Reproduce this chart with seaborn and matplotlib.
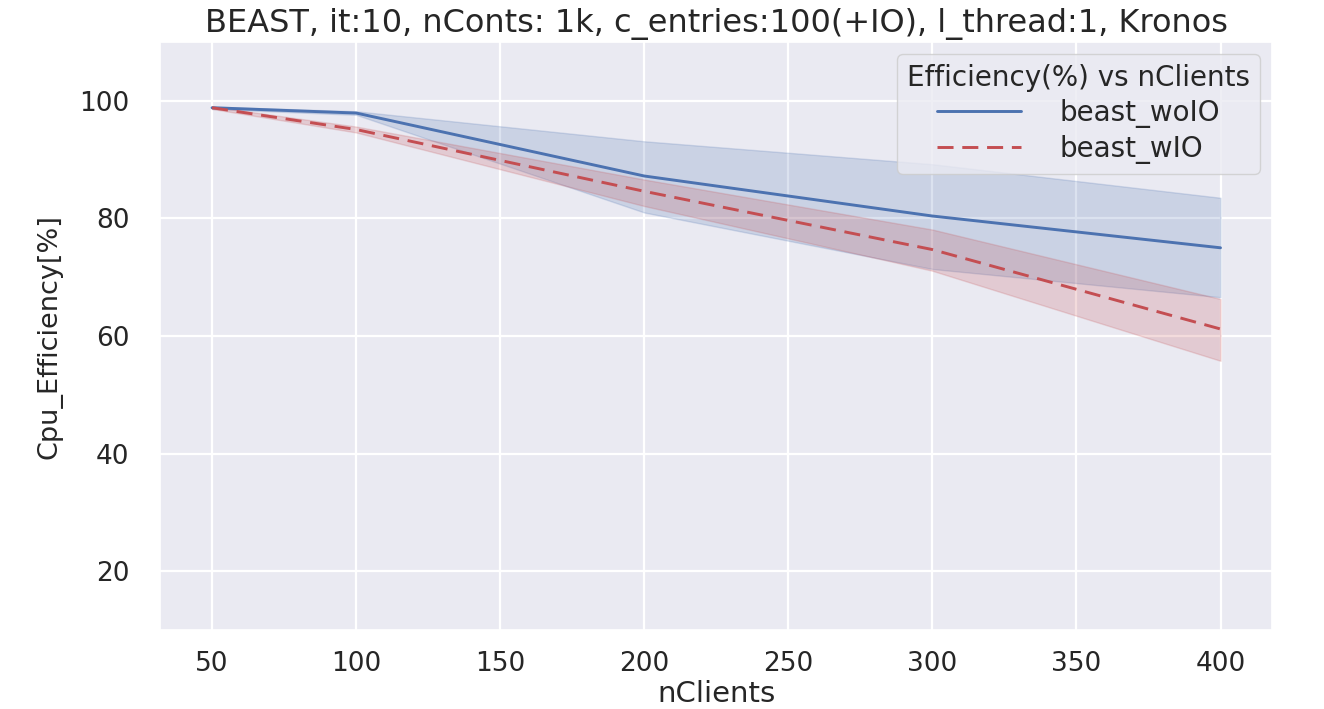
import numpy as np
import pandas as pd
import matplotlib
matplotlib.use("Agg")
import matplotlib.pyplot as plt
import seaborn as sns

# values
n_clients = [50, 100, 200, 300, 400]

wo_io_mean = [98.8, 97.9, 87.2, 80.4, 75.0]
wo_io_low = [98.6, 97.6, 81.0, 71.4, 66.6]
wo_io_high = [99.0, 98.2, 93.1, 89.2, 83.5]

w_io_mean = [98.8, 95.1, 84.6, 74.7, 61.2]
w_io_low = [98.6, 94.6, 82.1, 71.1, 55.8]
w_io_high = [99.0, 95.6, 86.6, 78.1, 66.3]

series_names = ["beast_woIO", "beast_wIO"]

sns.set_theme(style="darkgrid", color_codes=True, rc={"grid.linewidth": 1.6})
plt.rcParams['font.family'] = ['DejaVu Sans']

df = pd.DataFrame({
    "nClients": n_clients * 2,
    "Cpu_Efficiency": wo_io_mean + w_io_mean,
    "run": [series_names[0]] * len(n_clients) + [series_names[1]] * len(n_clients),
})

fig, ax = plt.subplots(figsize=(13.24, 7.09), dpi=100)
fig.subplots_adjust(left=0.121, right=0.961, top=0.941, bottom=0.111)

sns.lineplot(data=df, x="nClients", y="Cpu_Efficiency", hue="run", style="run",
             palette=["b", "r"], dashes=[(None, None), (5.5, 3)], linewidth=2.1, ax=ax)

ax.fill_between(n_clients, wo_io_low, wo_io_high, color="b", alpha=0.2, linewidth=1)
ax.fill_between(n_clients, w_io_low, w_io_high, color="r", alpha=0.2, linewidth=1)

ax.set_ylim(10, 110)
ax.set_xlim(32, 418)
ax.set_yticks([20, 40, 60, 80, 100])
ax.set_xticks([50, 100, 150, 200, 250, 300, 350, 400])

ax.set_title("BEAST, it:10, nConts: 1k, c_entries:100(+IO), l_thread:1, Kronos",
             fontsize=23, color="#262626", pad=7)
ax.set_xlabel("nClients", fontsize=21, color="#262626", labelpad=2)
ax.set_ylabel("Cpu_Efficiency[%]", fontsize=19.5, color="#262626", labelpad=12)

ax.tick_params(axis="both", labelsize=19, labelcolor="#262626")
ax.tick_params(axis="y", pad=16)
ax.tick_params(axis="x", pad=9)

handles, labels = ax.get_legend_handles_labels()
leg = ax.legend(handles, labels, title="Efficiency(%) vs nClients", loc="upper right",
                fontsize=20, title_fontsize=20, handlelength=3.0, handletextpad=1.4,
                labelspacing=0.25, borderaxespad=0.45, borderpad=0.35)

fig.savefig("out.png", dpi=100)
